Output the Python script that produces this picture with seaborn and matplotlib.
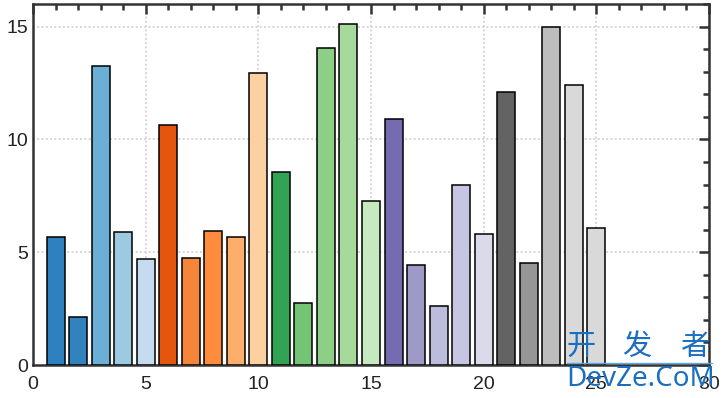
import numpy as np
import pandas as pd
import matplotlib
matplotlib.use("Agg")
import matplotlib.pyplot as plt
from matplotlib.lines import Line2D
from matplotlib.ticker import MultipleLocator
import seaborn as sns

# ---- datos ----------------------------------------------------------------
posiciones = list(range(1, 26))
valores = [5.68, 2.13, 13.23, 5.90, 4.70, 10.65, 4.75, 5.95, 5.68, 12.92,
           8.57, 2.75, 14.03, 15.13, 7.28, 10.92, 4.44, 2.62, 7.99, 5.81,
           12.12, 4.53, 14.96, 12.43, 6.08]
colores = ["#2f80be", "#3182bd", "#6baed6", "#9ecae1", "#c6dbef",
           "#e6550d", "#f5853a", "#fd8d3c", "#fdae6b", "#fdd0a2",
           "#31a354", "#74c476", "#8dcf86", "#a6da9b", "#c7e9c0",
           "#756bb1", "#9e9ac8", "#bcbddc", "#c6c5e2", "#dadaeb",
           "#636363", "#969696", "#bdbdbd", "#d9d9d9", "#d9d9d9"]

df = pd.DataFrame({"x": posiciones, "y": valores})
df["grupo"] = df["x"].astype(str)
paleta = dict(zip(df["grupo"], colores))

sns.set_style("white")
plt.rcParams["font.family"] = ["Liberation Sans", "DejaVu Sans"]

fig, ax = plt.subplots(figsize=(7.23, 3.98), dpi=100)
fig.subplots_adjust(left=33 / 723, right=709 / 723, top=1 - 4 / 398, bottom=1 - 365 / 398)

sns.barplot(data=df, x="x", y="y", hue="grupo", palette=paleta,
            native_scale=True, width=0.8, edgecolor="black", linewidth=1.1,
            legend=False, saturation=1, ax=ax, zorder=3)

ax.set_xlim(0, 30)
ax.set_ylim(0, 16)
ax.xaxis.set_major_locator(MultipleLocator(5))
ax.xaxis.set_minor_locator(MultipleLocator(1))
ax.yaxis.set_major_locator(MultipleLocator(5))
ax.yaxis.set_minor_locator(MultipleLocator(1))
ax.set_xlabel("")
ax.set_ylabel("")

ax.grid(True, which="major", linestyle=(0, (1, 1.2)), color="#d6d6d6", linewidth=1.4, zorder=0)
ax.set_axisbelow(True)
for s in ax.spines.values():
    s.set_visible(True)
    s.set_color("#333333")
    s.set_linewidth(1.8)

ax.tick_params(which="both", direction="in", top=True, right=True, colors="#333333",
               labelcolor="#222222", labelsize=14)
ax.tick_params(which="major", length=7, width=1.8)
ax.tick_params(which="minor", length=4, width=1.8)
ax.tick_params(axis="x", pad=8)

# marca de agua
azul = "#1a6fc0"
for cx, ch in zip([581, 637, 695], "开发者"):
    fig.text(cx / 723, 1 - 362 / 398, ch, color=azul, fontsize=21,
             family=["Noto Sans CJK SC", "DejaVu Sans"], ha="center", va="bottom")
fig.add_artist(Line2D([567 / 723, 712 / 723], [1 - 363 / 398] * 2,
                      color="#5aa9e6", linewidth=1, transform=fig.transFigure))
fig.text(566 / 723, 1 - 393 / 398, "DevZe.CoM", color=azul, fontsize=20,
         family=["Noto Sans", "DejaVu Sans"], ha="left", va="bottom")

fig.savefig("out.png", dpi=100)
